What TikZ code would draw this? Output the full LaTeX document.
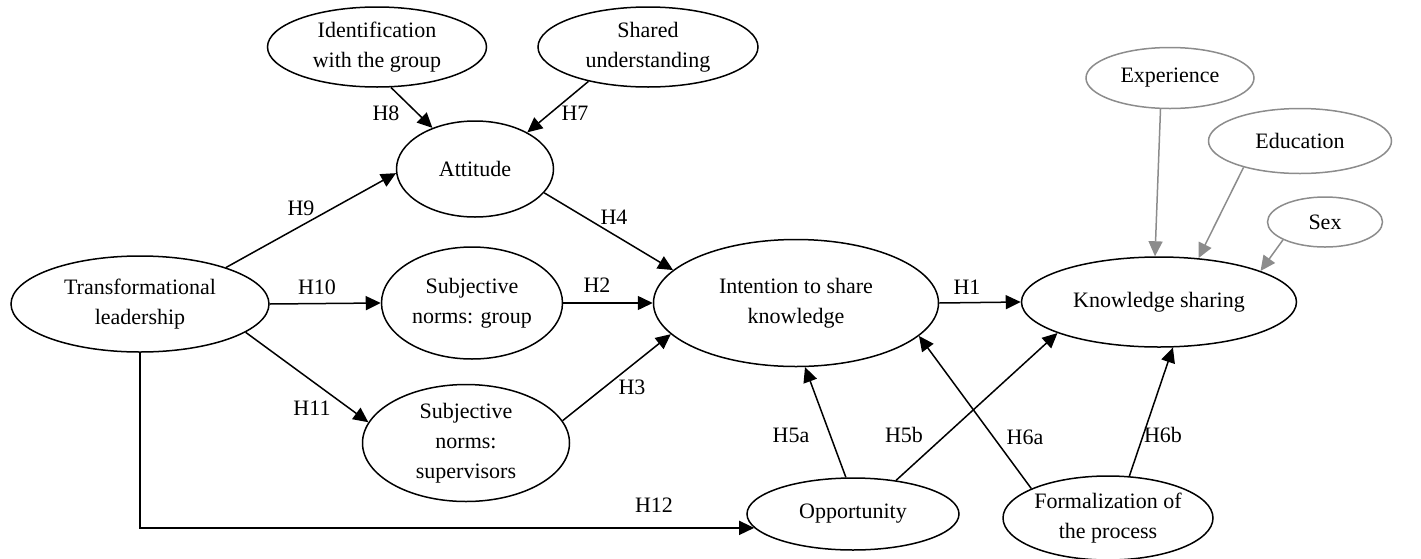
\documentclass[tikz,border=0pt]{standalone}
\usepackage{fontspec}
\setmainfont{Liberation Serif}
\usetikzlibrary{arrows.meta,shapes.geometric}

\tikzset{
  var/.style={ellipse,draw,line width=0.75pt,inner sep=0pt,align=center,
    font=\fontsize{11}{15}\selectfont},
  ctrl/.style={var,draw=gray!90},
  hyp/.style={-{Triangle[length=7.5pt,width=7pt]},line width=0.75pt},
  ctrlarrow/.style={hyp,draw=gray!90},
  hl/.style={inner sep=0pt,font=\fontsize{11}{15}\selectfont}
}

\begin{document}
\begin{tikzpicture}[x=0.5pt,y=-0.5pt]
  \useasboundingbox (0,0) rectangle (1421,558);

  % constructs
  \node[var,minimum width=109.5pt,minimum height=40pt] (ident) at (377,47) {Identification\\with the group};
  \node[var,minimum width=110pt,minimum height=40pt] (shared) at (648,47) {Shared\\understanding};
  \node[var,minimum width=78.5pt,minimum height=48pt] (att) at (475,169) {Attitude};
  \node[var,minimum width=129pt,minimum height=48pt] (tl) at (140,304) {Transformational\\leadership};
  \node[var,minimum width=90.5pt,minimum height=56pt] (sng) at (472,303) {Subjective\\norms: group};
  \node[var,minimum width=103.5pt,minimum height=58.5pt] (sup) at (466,443) {Subjective\\norms:\\supervisors};
  \node[var,minimum width=142.5pt,minimum height=63.5pt] (int) at (796,303) {Intention to share\\knowledge};
  \node[var,minimum width=137.5pt,minimum height=45pt] (ks) at (1159,302) {Knowledge sharing};
  \node[var,minimum width=106pt,minimum height=36pt] (opp) at (853,514) {Opportunity};
  \node[var,minimum width=105pt,minimum height=42pt] (form) at (1108,518) {Formalization of\\the process};

  % controls
  \node[ctrl,minimum width=84pt,minimum height=30.5pt] (exp) at (1170,78) {Experience};
  \node[ctrl,minimum width=91.5pt,minimum height=32.5pt] (edu) at (1300,141) {Education};
  \node[ctrl,minimum width=57.5pt,minimum height=25pt] (sex) at (1325,222) {Sex};

  % hypotheses
  \draw[hyp] (ident.-71) -- (att.136);
  \draw[hyp] (shared.210) -- (att.35);
  \draw[hyp] (tl.23) -- (att.183);
  \draw[hyp] (att.-19) -- (int.165);
  \draw[hyp] (tl.east) -- (sng.west);
  \draw[hyp] (sng.east) -- (int.west);
  \draw[hyp] (tl.-15) -- (sup.168);
  \draw[hyp] (sup.13) -- (int.194);
  \draw[hyp] (int.east) -- (ks.west);
  \draw[hyp] (tl.south) |- (opp.188);
  \draw[hyp] (opp.101) -- (int.-82);
  \draw[hyp] (opp.38) -- (ks.197);
  \draw[hyp] (form.159) -- (int.-15);
  \draw[hyp] (form.63) -- (ks.-73);

  \draw[ctrlarrow] (exp.-107) -- (ks.95);
  \draw[ctrlarrow] (edu.205) -- (ks.48);
  \draw[ctrlarrow] (sex.203) -- (ks.17);

  % labels
  \node[hl] (h8) at (386,113) {H8};
  \node[hl] (h7) at (575,113) {H7};
  \node[hl] (h9) at (301,208) {H9};
  \node[hl] (h4) at (614,217) {H4};
  \node[hl] (h10) at (317,287) {H10};
  \node[hl] (h2) at (597,285) {H2};
  \node[hl] (h11) at (312,408) {H11};
  \node[hl] (h3) at (632,387) {H3};
  \node[hl] (h12) at (654,505) {H12};
  \node[hl] (h1) at (967,287) {H1};
  \node[hl] (h5a) at (791,435) {H5a};
  \node[hl] (h5b) at (904,435) {H5b};
  \node[hl] (h6a) at (1025,437) {H6a};
  \node[hl] (h6b) at (1163,435) {H6b};
\end{tikzpicture}
\end{document}
